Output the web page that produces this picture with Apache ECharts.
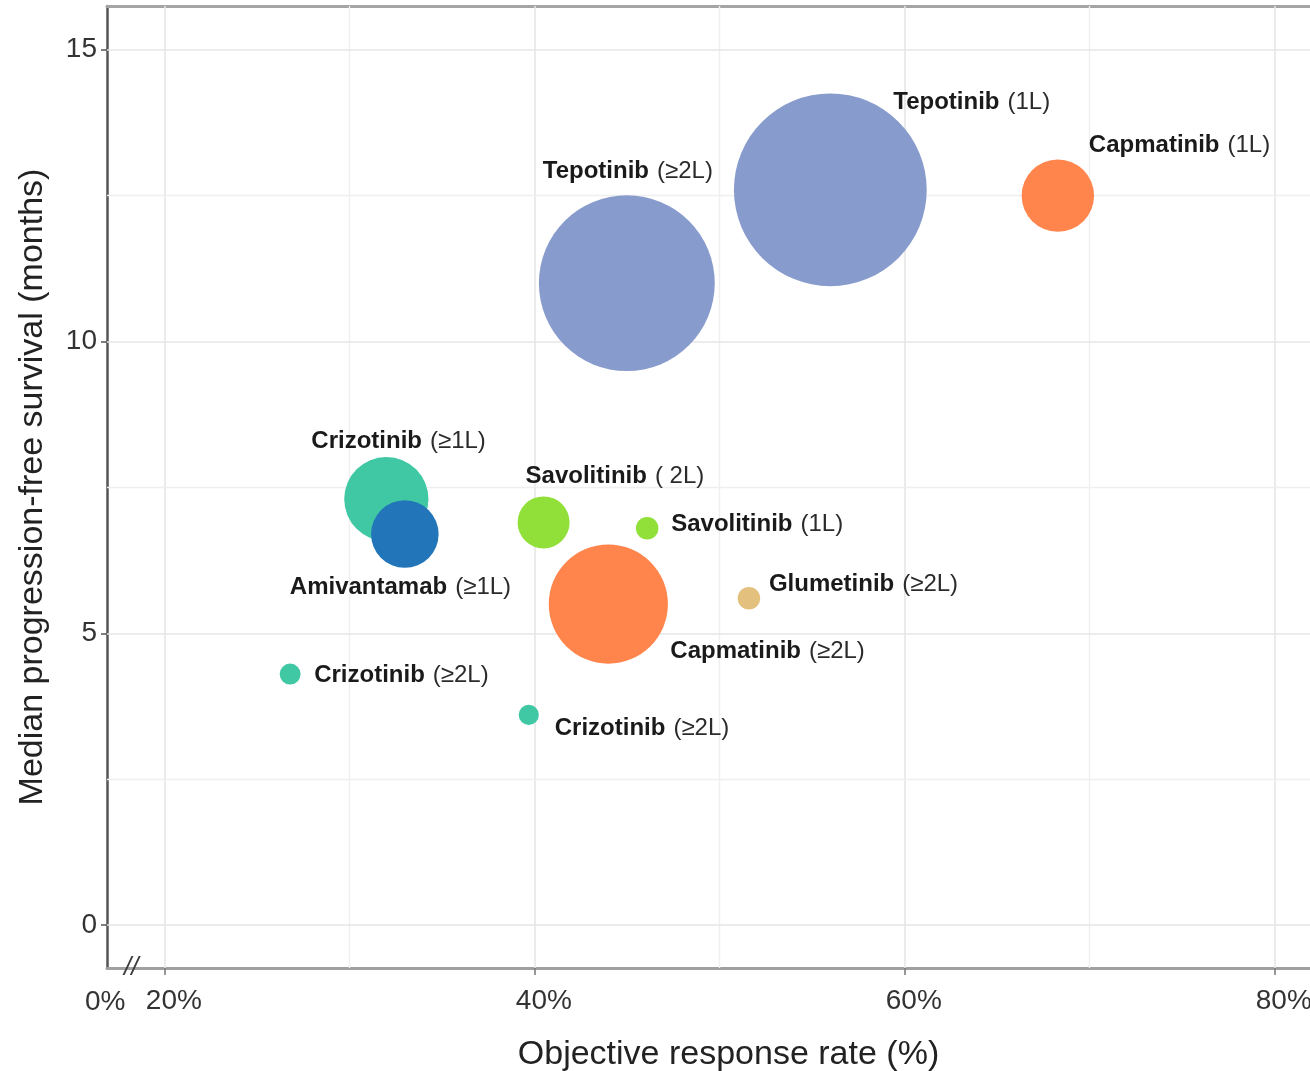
<!DOCTYPE html>
<html>
<head>
<meta charset="utf-8">
<script src="https://cdn.jsdelivr.net/npm/echarts@6/dist/echarts.min.js"></script>
<style>
  html, body { margin: 0; padding: 0; background: #ffffff; overflow: hidden; }
  #chart { width: 1310px; height: 1071px; }
</style>
</head>
<body>
<div id="chart"></div>
<script>
// ---- Data ----
const drugs = ['Tepotinib', 'Tepotinib', 'Capmatinib', 'Crizotinib', 'Amivantamab', 'Savolitinib', 'Savolitinib', 'Capmatinib', 'Glumetinib', 'Crizotinib', 'Crizotinib'];
const lineOfTherapy = ['(1L)', '(≥2L)', '(1L)', '(≥1L)', '(≥1L)', '( 2L)', '(1L)', '(≥2L)', '(≥2L)', '(≥2L)', '(≥2L)'];
const responseRate = [56.0, 45.0, 68.3, 32.0, 33.0, 40.5, 46.1, 44.0, 51.6, 26.8, 39.7];   // ORR %
const medianPFS = [12.6, 11.0, 12.5, 7.3, 6.7, 6.9, 6.8, 5.5, 5.6, 4.3, 3.6];               // months
const sampleSize = [220, 183, 31, 42, 27, 16, 3, 84, 3, 2.6, 2.4];                         // bubble weight
const xTickValues = [20, 40, 60, 80];
const xMinorValues = [30, 50, 70];
const yTickValues = [0, 5, 10, 15];
const yMinorValues = [2.5, 7.5, 12.5];
const brokenAxisLabel = '0%';

// ---- Styles / layout ----
const drugColors = {
  'Tepotinib': '#889bcd',
  'Capmatinib': '#ff854d',
  'Crizotinib': '#3fc8a3',
  'Amivantamab': '#2275b8',
  'Savolitinib': '#91e03a',
  'Glumetinib': '#e4c07e'
};
// label anchor offsets (px) from bubble centre: [dx to text left, dy to text middle]
const labelOffsets = [
  [63, -87], [-84, -112], [31, -50], [-75, -58], [-115, 53], [-18, -46],
  [24, -4], [62, 47], [20, -14], [24, 1], [26, 13]
];
const FONT = '"Liberation Sans", Arial, Helvetica, sans-serif';
const X_MIN = 16.9, X_MAX = 81.93, Y_MIN = -0.737, Y_MAX = 15.75;

const bubbleData = drugs.map((d, i) => ({
  value: [responseRate[i], medianPFS[i], sampleSize[i]],
  name: d,
  itemStyle: { color: drugColors[d], opacity: 1 },
  label: {
    show: true,
    position: 'inside',
    align: 'left',
    verticalAlign: 'middle',
    offset: labelOffsets[i],
    formatter: '{b|' + d + '}{n|' + lineOfTherapy[i] + '}',
    rich: {
      b: { fontFamily: FONT, fontSize: 24, fontWeight: 'bold', color: '#1a1a1a' },
      n: { fontFamily: FONT, fontSize: 24, fontWeight: 'normal', color: '#2b2b2b', padding: [0, 0, 0, 8] }
    }
  }
}));

const gridLines = [];
xTickValues.forEach(v => gridLines.push({ xAxis: v, lineStyle: { color: '#e6e6e6', width: 1.6, type: 'solid' } }));
xMinorValues.forEach(v => gridLines.push({ xAxis: v, lineStyle: { color: '#efefef', width: 1.4, type: 'solid' } }));
yTickValues.forEach(v => gridLines.push({ yAxis: v, lineStyle: { color: '#e6e6e6', width: 1.6, type: 'solid' } }));
yMinorValues.forEach(v => gridLines.push({ yAxis: v, lineStyle: { color: '#efefef', width: 1.4, type: 'solid' } }));

const chart = echarts.init(document.getElementById('chart'), null, { renderer: 'canvas' });
chart.setOption({
  animation: false,
  backgroundColor: '#ffffff',
  textStyle: { fontFamily: FONT },
  grid: { left: 107, right: 0, top: 6, bottom: 103, containLabel: false, outerBoundsMode: 'none' },
  xAxis: [{
    type: 'value',
    min: X_MIN, max: X_MAX,
    name: 'Objective response rate (%)',
    nameLocation: 'middle',
    nameGap: 70,
    nameTextStyle: { fontFamily: FONT, fontSize: 34, color: '#222', padding: [0, 0, 0, 40] },
    axisLine: { show: true, onZero: false, lineStyle: { color: '#a0a0a0', width: 3 } },
    axisTick: { show: true, customValues: xTickValues, length: 7, lineStyle: { color: '#777', width: 1.5 } },
    axisLabel: {
      customValues: xTickValues,
      formatter: v => v + '%',
      fontFamily: FONT, fontSize: 28, color: '#333',
      margin: 19, padding: [0, 0, 0, 19], hideOverlap: false
    },
    splitLine: { show: false }
  }, {
    type: 'value', position: 'top',
    min: X_MIN, max: X_MAX,
    axisLine: { show: true, onZero: false, lineStyle: { color: '#a5a5a5', width: 3 } },
    axisTick: { show: false }, axisLabel: { show: false }, splitLine: { show: false }
  }],
  yAxis: {
    type: 'value',
    min: Y_MIN, max: Y_MAX,
    name: 'Median progression-free survival (months)',
    nameLocation: 'middle',
    nameRotate: 90,
    nameGap: 57,
    nameTextStyle: { fontFamily: FONT, fontSize: 34, color: '#222' },
    axisLine: { show: true, onZero: false, lineStyle: { color: '#555', width: 2.5 } },
    axisTick: { show: true, customValues: yTickValues, length: 6, lineStyle: { color: '#555', width: 1.5 } },
    axisLabel: {
      customValues: yTickValues,
      fontFamily: FONT, fontSize: 28, color: '#333', margin: 10
    },
    splitLine: { show: false }
  },
  graphic: [
    { type: 'text', left: 85, top: 988, style: { text: brokenAxisLabel, font: '28px ' + FONT, fill: '#333' }, z: 100 },
    { type: 'text', left: 124, top: 955, style: { text: '//', font: 'italic 26px ' + FONT, fill: '#3a3a3a' }, z: 100 }
  ],
  series: [{
    type: 'scatter',
    data: [],
    silent: true,
    z: 1,
    markLine: {
      silent: true,
      symbol: ['none', 'none'],
      label: { show: false },
      animation: false,
      data: gridLines
    }
  }, {
    type: 'scatter',
    z: 5,
    data: bubbleData,
    symbol: 'circle',
    symbolSize: v => Math.sqrt(v[2]) * 13,
    emphasis: { disabled: true }
  }]
});
</script>
</body>
</html>
